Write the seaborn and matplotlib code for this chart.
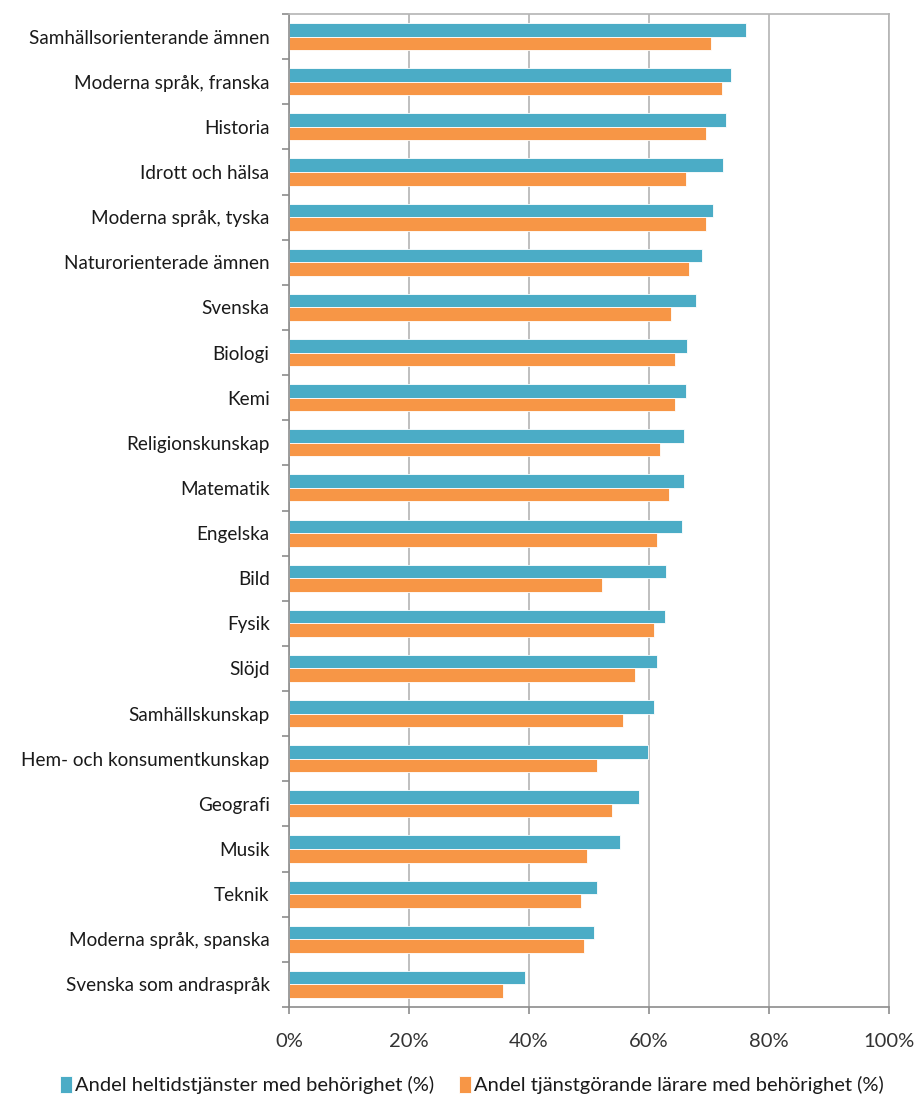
import numpy as np
import pandas as pd
import matplotlib
matplotlib.use("Agg")
import matplotlib.pyplot as plt
from matplotlib.ticker import PercentFormatter, FixedLocator
import seaborn as sns

# ── Data (%) ─────────────────────────────────────────────────────────
subjects = [
    "Samhällsorienterande ämnen", "Moderna språk, franska", "Historia",
    "Idrott och hälsa", "Moderna språk, tyska", "Naturorienterade ämnen",
    "Svenska", "Biologi", "Kemi", "Religionskunskap", "Matematik",
    "Engelska", "Bild", "Fysik", "Slöjd", "Samhällskunskap",
    "Hem- och konsumentkunskap", "Geografi", "Musik", "Teknik",
    "Moderna språk, spanska", "Svenska som andraspråk",
]
heltid = [76.2, 73.6, 72.9, 72.4, 70.6, 68.9, 67.8, 66.3, 66.2, 65.8, 65.8,
          65.5, 62.9, 62.6, 61.3, 60.9, 59.9, 58.4, 55.2, 51.3, 50.9, 39.4]
larare = [70.4, 72.1, 69.5, 66.2, 69.5, 66.7, 63.6, 64.4, 64.4, 61.9, 63.3,
          61.3, 52.1, 60.9, 57.7, 55.7, 51.4, 53.8, 49.7, 48.6, 49.2, 35.7]
series_names = ["Andel heltidstjänster med behörighet (%)",
                "Andel tjänstgörande lärare med behörighet (%)"]
series_colors = ["#4BACC6", "#F79646"]

df = pd.DataFrame({
    "subject": subjects * 2,
    "value": heltid + larare,
    "series": [series_names[0]] * len(subjects) + [series_names[1]] * len(subjects),
})

sns.set_theme(style="white")
plt.rcParams["font.family"] = ["Lato", "DejaVu Sans"]

fig = plt.figure(figsize=(9.16, 10.99), dpi=100)
ax = fig.add_axes([289 / 916, 1 - 1007 / 1099, 600 / 916, 993 / 1099])

grid_col = "#B4B4B4"
axis_col = "#8C8C8C"
sns.barplot(data=df, y="subject", x="value", hue="series", order=subjects,
            hue_order=series_names, palette=series_colors, orient="h",
            width=0.6, saturation=1, edgecolor="white", linewidth=0.6,
            legend=True, ax=ax)

ax.set_xlim(0, 100)
ax.set_ylim(len(subjects) - 0.5, -0.5)
ax.set_xticks(np.arange(0, 101, 20))
ax.xaxis.set_major_formatter(PercentFormatter(decimals=0))
ax.set_xlabel("")
ax.set_ylabel("")

# vertical gridlines only
ax.grid(axis="x", color=grid_col, linewidth=1.2)
ax.grid(axis="y", visible=False)
ax.set_axisbelow(True)

for side in ["left", "bottom", "top", "right"]:
    ax.spines[side].set_visible(True)
    ax.spines[side].set_color(grid_col if side in ("top", "right") else axis_col)
    ax.spines[side].set_linewidth(1.2)

# category labels without tick marks; boundary ticks as minor ticks
ax.tick_params(axis="y", which="major", length=0, pad=14, labelsize=13.6,
               labelcolor="#1a1a1a")
ax.yaxis.set_minor_locator(FixedLocator(np.arange(-0.5, len(subjects), 1.0)))
ax.tick_params(axis="y", which="minor", length=5, width=1.2, color=axis_col,
               left=True)
ax.tick_params(axis="x", which="major", length=5, width=1.2, color=axis_col,
               pad=14, labelsize=14.5, labelcolor="#333333", bottom=True)

handles, labels = ax.get_legend_handles_labels()
ax.legend_.remove()
fig.legend(handles, labels, loc="center", bbox_to_anchor=(0.515, 1 - 1085 / 1099),
           ncol=2, frameon=False, fontsize=14.5, handlelength=0.6,
           handleheight=0.9, handletextpad=0.15, columnspacing=1.2,
           labelcolor="#1a1a1a")

fig.savefig("out.png", dpi=100)
